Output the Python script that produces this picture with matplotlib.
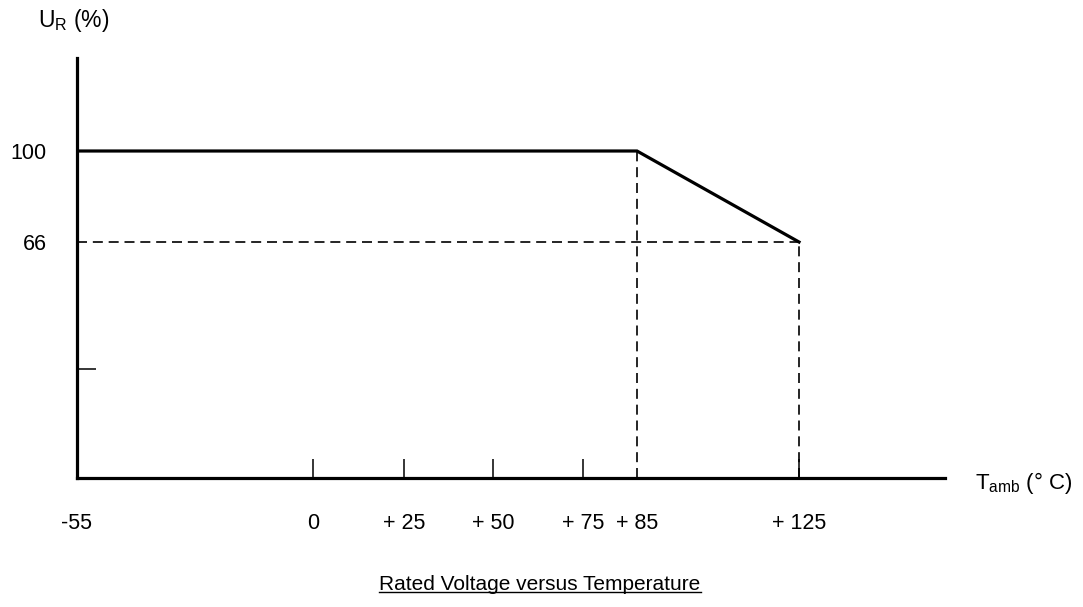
import numpy as np
import matplotlib
matplotlib.use('Agg')
import matplotlib.pyplot as plt
from matplotlib.lines import Line2D

plt.rcParams['font.family'] = ['Liberation Sans', 'DejaVu Sans']
plt.rcParams['mathtext.fontset'] = 'custom'
plt.rcParams['mathtext.rm'] = 'Liberation Sans'
plt.rcParams['mathtext.it'] = 'Liberation Sans'

# derating curve
temps = [-55, 85, 125]
ur_pct = [100, 100, 66]

# axis labels
x_ticks = [-55, 0, 25, 50, 75, 85, 125]
x_labels = ['-55', '0', '+ 25', '+ 50', '+ 75', '+ 85', '+ 125']
x_marks = [0, 25, 50, 75, 125]
y_ticks = [66, 100]
y_labels = ['66', '100']
y_marks = [33]

# the drawing is schematic, not to scale -> piecewise axis scales
x_knots = np.array([-55, 0, 25, 50, 75, 85, 125, 161])
x_pos = np.array([0, 236, 327, 416, 506, 560, 722, 868], dtype=float)
y_knots = np.array([0, 33, 66, 100, 130])
y_pos = np.array([0, 109, 236, 327, 420], dtype=float)

def fwd_x(v):
    return np.interp(v, x_knots, x_pos)

def inv_x(v):
    return np.interp(v, x_pos, x_knots)

def fwd_y(v):
    return np.interp(v, y_knots, y_pos)

def inv_y(v):
    return np.interp(v, y_pos, y_knots)

W, H = 1083, 607
fig = plt.figure(figsize=(W / 100, H / 100), dpi=100)
ax = fig.add_axes([77 / W, (H - 478) / H, 868 / W, 420 / H])
ax.set_xscale('function', functions=(fwd_x, inv_x))
ax.set_yscale('function', functions=(fwd_y, inv_y))
ax.set_xlim(-55, 161)
ax.set_ylim(0, 130)

ax.plot(temps, ur_pct, color='black', lw=2.3, solid_joinstyle='miter', zorder=3)

dash = dict(color='black', lw=1.2, dashes=(6, 3.5), zorder=2)
ax.plot([85, 85], [0, 100], **dash)
ax.plot([125, 125], [0, 66], **dash)
ax.plot([-55, 125], [66, 66], **dash)

for s in ['top', 'right']:
    ax.spines[s].set_visible(False)
for s in ['left', 'bottom']:
    ax.spines[s].set_linewidth(2.3)
    ax.spines[s].set_capstyle('projecting')

ax.xaxis.remove_overlapping_locs = False
ax.yaxis.remove_overlapping_locs = False
ax.set_xticks(x_ticks)
ax.set_xticklabels(x_labels)
ax.set_xticks(x_marks, minor=True)
ax.set_yticks(y_ticks)
ax.set_yticklabels(y_labels)
ax.set_yticks(y_marks, minor=True)
ax.tick_params(which='major', length=0, labelsize=15.5)
ax.tick_params(axis='x', which='major', pad=25)
ax.tick_params(axis='y', which='major', pad=22)
ax.tick_params(which='minor', direction='in', length=14, width=1.1, color='black')

fig.text(38 / W, 1 - 20 / H, r'U$_{\mathrm{R}}$ (%)', fontsize=16.5, va='center', ha='left')
fig.text(975 / W, 1 - 483 / H, r'T$_{\mathrm{amb}}$ (° C)', fontsize=16, va='center', ha='left')

title = fig.text(540 / W, 1 - 584 / H, 'Rated Voltage versus Temperature',
                 fontsize=15, ha='center', va='center')
fig.canvas.draw()
bb = title.get_window_extent().transformed(fig.transFigure.inverted())
fig.add_artist(Line2D([bb.x0, bb.x1], [bb.y0 + 0.002, bb.y0 + 0.002],
                      transform=fig.transFigure, color='black', lw=1.0))

fig.savefig('out.png', dpi=100)
